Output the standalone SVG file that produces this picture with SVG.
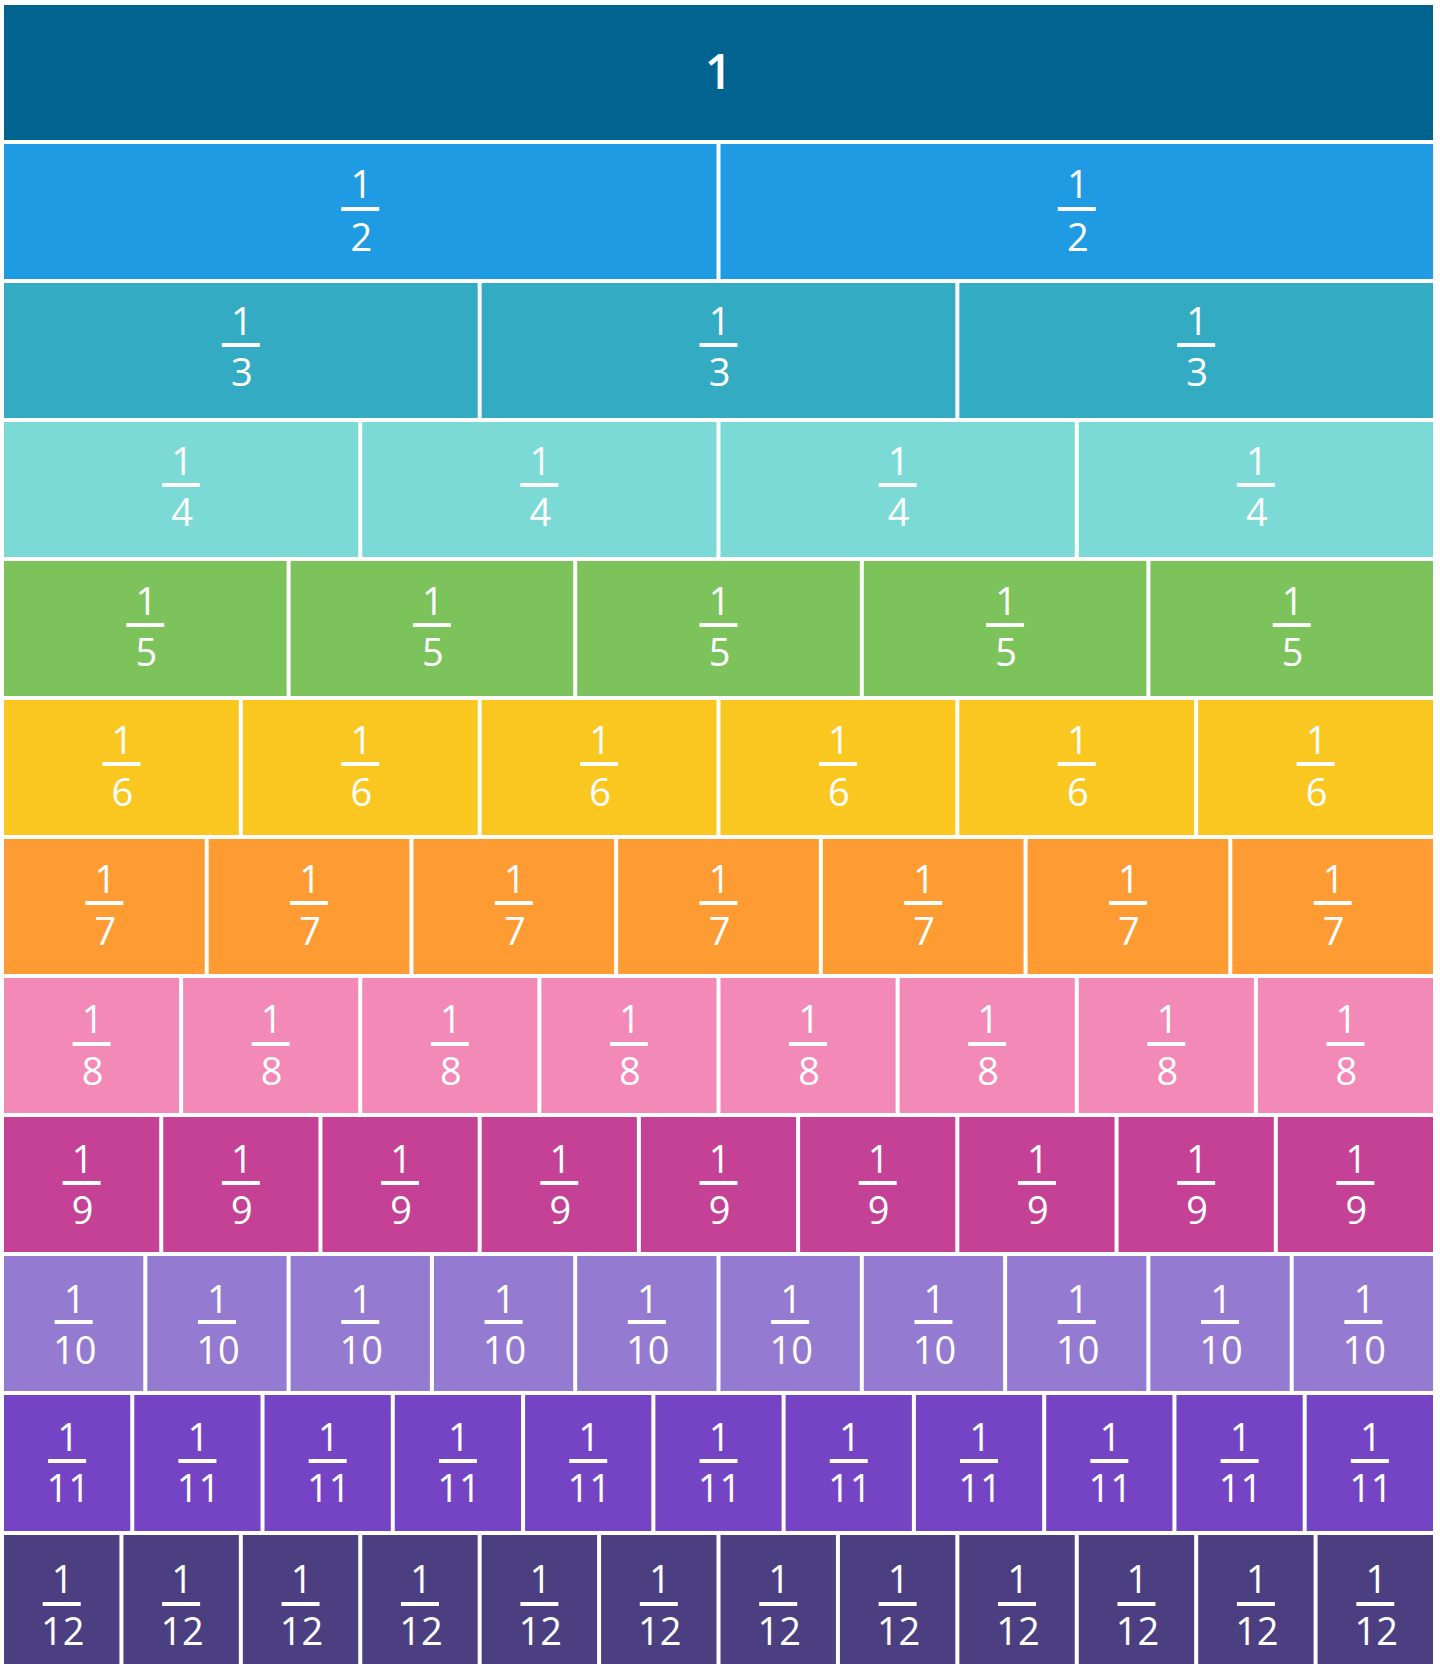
<svg xmlns="http://www.w3.org/2000/svg" width="1440" height="1664" viewBox="0 0 1440 1664">
<style>
text{font-family:"Open Sans","Noto Sans","Liberation Sans",sans-serif;fill:#fff;text-anchor:middle;font-size:38px;font-weight:500}
.one{font-size:48px;font-weight:600}
.bar{fill:#fff}
.c1{fill:#006390}.c2{fill:#1e9be2}.c3{fill:#33abc3}.c4{fill:#7bdad5}.c5{fill:#7dc35b}.c6{fill:#f9c720}
.c7{fill:#fe9b33}.c8{fill:#f289b6}.c9{fill:#c44196}.c10{fill:#957ad1}.c11{fill:#7444c4}.c12{fill:#4b3f82}
</style>
<rect width="1440" height="1664" fill="#fff"/>
<g id="connectors"/>
<g id="whole" transform="translate(718.5 5)"><rect class="c1" x="-714.5" width="1429" height="135"/><text class="one" y="84">1</text></g>

<g id="half-1" transform="translate(360.25 144)"><rect class="c2" x="-356.25" width="712.5" height="135"/><text x="1" y="54">1</text><rect class="bar" x="-19" y="63" width="38" height="4"/><text x="1" y="107">2</text></g>
<g id="half-2" transform="translate(1076.75 144)"><rect class="c2" x="-356.25" width="712.5" height="135"/><text x="1" y="54">1</text><rect class="bar" x="-19" y="63" width="38" height="4"/><text x="1" y="107">2</text></g>

<g id="third-1" transform="translate(240.83 283)"><rect class="c3" x="-236.83" width="473.67" height="135"/><text x="1" y="52">1</text><rect class="bar" x="-19" y="60" width="38" height="4"/><text x="1" y="103">3</text></g>
<g id="third-2" transform="translate(718.5 283)"><rect class="c3" x="-236.83" width="473.67" height="135"/><text x="1" y="52">1</text><rect class="bar" x="-19" y="60" width="38" height="4"/><text x="1" y="103">3</text></g>
<g id="third-3" transform="translate(1196.17 283)"><rect class="c3" x="-236.83" width="473.67" height="135"/><text x="1" y="52">1</text><rect class="bar" x="-19" y="60" width="38" height="4"/><text x="1" y="103">3</text></g>

<g id="quarter-1" transform="translate(181.13 422)"><rect class="c4" x="-177.13" width="354.25" height="135"/><text x="1" y="53">1</text><rect class="bar" x="-19" y="61" width="38" height="4"/><text x="1" y="104">4</text></g>
<g id="quarter-2" transform="translate(539.38 422)"><rect class="c4" x="-177.13" width="354.25" height="135"/><text x="1" y="53">1</text><rect class="bar" x="-19" y="61" width="38" height="4"/><text x="1" y="104">4</text></g>
<g id="quarter-3" transform="translate(897.63 422)"><rect class="c4" x="-177.13" width="354.25" height="135"/><text x="1" y="53">1</text><rect class="bar" x="-19" y="61" width="38" height="4"/><text x="1" y="104">4</text></g>
<g id="quarter-4" transform="translate(1255.88 422)"><rect class="c4" x="-177.13" width="354.25" height="135"/><text x="1" y="53">1</text><rect class="bar" x="-19" y="61" width="38" height="4"/><text x="1" y="104">4</text></g>

<g id="fifth-1" transform="translate(145.3 561)"><rect class="c5" x="-141.3" width="282.6" height="135"/><text x="1" y="54">1</text><rect class="bar" x="-19" y="62" width="38" height="4"/><text x="1" y="105">5</text></g>
<g id="fifth-2" transform="translate(431.9 561)"><rect class="c5" x="-141.3" width="282.6" height="135"/><text x="1" y="54">1</text><rect class="bar" x="-19" y="62" width="38" height="4"/><text x="1" y="105">5</text></g>
<g id="fifth-3" transform="translate(718.5 561)"><rect class="c5" x="-141.3" width="282.6" height="135"/><text x="1" y="54">1</text><rect class="bar" x="-19" y="62" width="38" height="4"/><text x="1" y="105">5</text></g>
<g id="fifth-4" transform="translate(1005.1 561)"><rect class="c5" x="-141.3" width="282.6" height="135"/><text x="1" y="54">1</text><rect class="bar" x="-19" y="62" width="38" height="4"/><text x="1" y="105">5</text></g>
<g id="fifth-5" transform="translate(1291.7 561)"><rect class="c5" x="-141.3" width="282.6" height="135"/><text x="1" y="54">1</text><rect class="bar" x="-19" y="62" width="38" height="4"/><text x="1" y="105">5</text></g>

<g id="sixth-1" transform="translate(121.42 700)"><rect class="c6" x="-117.42" width="234.83" height="135"/><text x="1" y="54">1</text><rect class="bar" x="-19" y="62" width="38" height="4"/><text x="1" y="106">6</text></g>
<g id="sixth-2" transform="translate(360.25 700)"><rect class="c6" x="-117.42" width="234.83" height="135"/><text x="1" y="54">1</text><rect class="bar" x="-19" y="62" width="38" height="4"/><text x="1" y="106">6</text></g>
<g id="sixth-3" transform="translate(599.08 700)"><rect class="c6" x="-117.42" width="234.83" height="135"/><text x="1" y="54">1</text><rect class="bar" x="-19" y="62" width="38" height="4"/><text x="1" y="106">6</text></g>
<g id="sixth-4" transform="translate(837.92 700)"><rect class="c6" x="-117.42" width="234.83" height="135"/><text x="1" y="54">1</text><rect class="bar" x="-19" y="62" width="38" height="4"/><text x="1" y="106">6</text></g>
<g id="sixth-5" transform="translate(1076.75 700)"><rect class="c6" x="-117.42" width="234.83" height="135"/><text x="1" y="54">1</text><rect class="bar" x="-19" y="62" width="38" height="4"/><text x="1" y="106">6</text></g>
<g id="sixth-6" transform="translate(1315.58 700)"><rect class="c6" x="-117.42" width="234.83" height="135"/><text x="1" y="54">1</text><rect class="bar" x="-19" y="62" width="38" height="4"/><text x="1" y="106">6</text></g>

<g id="seventh-1" transform="translate(104.36 839)"><rect class="c7" x="-100.36" width="200.71" height="135"/><text x="1" y="54">1</text><rect class="bar" x="-19" y="62" width="38" height="4"/><text x="1" y="106">7</text></g>
<g id="seventh-2" transform="translate(309.07 839)"><rect class="c7" x="-100.36" width="200.71" height="135"/><text x="1" y="54">1</text><rect class="bar" x="-19" y="62" width="38" height="4"/><text x="1" y="106">7</text></g>
<g id="seventh-3" transform="translate(513.79 839)"><rect class="c7" x="-100.36" width="200.71" height="135"/><text x="1" y="54">1</text><rect class="bar" x="-19" y="62" width="38" height="4"/><text x="1" y="106">7</text></g>
<g id="seventh-4" transform="translate(718.5 839)"><rect class="c7" x="-100.36" width="200.71" height="135"/><text x="1" y="54">1</text><rect class="bar" x="-19" y="62" width="38" height="4"/><text x="1" y="106">7</text></g>
<g id="seventh-5" transform="translate(923.21 839)"><rect class="c7" x="-100.36" width="200.71" height="135"/><text x="1" y="54">1</text><rect class="bar" x="-19" y="62" width="38" height="4"/><text x="1" y="106">7</text></g>
<g id="seventh-6" transform="translate(1127.93 839)"><rect class="c7" x="-100.36" width="200.71" height="135"/><text x="1" y="54">1</text><rect class="bar" x="-19" y="62" width="38" height="4"/><text x="1" y="106">7</text></g>
<g id="seventh-7" transform="translate(1332.64 839)"><rect class="c7" x="-100.36" width="200.71" height="135"/><text x="1" y="54">1</text><rect class="bar" x="-19" y="62" width="38" height="4"/><text x="1" y="106">7</text></g>

<g id="eighth-1" transform="translate(91.56 978)"><rect class="c8" x="-87.56" width="175.13" height="135"/><text x="1" y="55">1</text><rect class="bar" x="-19" y="64" width="38" height="4"/><text x="1" y="107">8</text></g>
<g id="eighth-2" transform="translate(270.69 978)"><rect class="c8" x="-87.56" width="175.13" height="135"/><text x="1" y="55">1</text><rect class="bar" x="-19" y="64" width="38" height="4"/><text x="1" y="107">8</text></g>
<g id="eighth-3" transform="translate(449.81 978)"><rect class="c8" x="-87.56" width="175.13" height="135"/><text x="1" y="55">1</text><rect class="bar" x="-19" y="64" width="38" height="4"/><text x="1" y="107">8</text></g>
<g id="eighth-4" transform="translate(628.94 978)"><rect class="c8" x="-87.56" width="175.13" height="135"/><text x="1" y="55">1</text><rect class="bar" x="-19" y="64" width="38" height="4"/><text x="1" y="107">8</text></g>
<g id="eighth-5" transform="translate(808.06 978)"><rect class="c8" x="-87.56" width="175.13" height="135"/><text x="1" y="55">1</text><rect class="bar" x="-19" y="64" width="38" height="4"/><text x="1" y="107">8</text></g>
<g id="eighth-6" transform="translate(987.19 978)"><rect class="c8" x="-87.56" width="175.13" height="135"/><text x="1" y="55">1</text><rect class="bar" x="-19" y="64" width="38" height="4"/><text x="1" y="107">8</text></g>
<g id="eighth-7" transform="translate(1166.31 978)"><rect class="c8" x="-87.56" width="175.13" height="135"/><text x="1" y="55">1</text><rect class="bar" x="-19" y="64" width="38" height="4"/><text x="1" y="107">8</text></g>
<g id="eighth-8" transform="translate(1345.44 978)"><rect class="c8" x="-87.56" width="175.13" height="135"/><text x="1" y="55">1</text><rect class="bar" x="-19" y="64" width="38" height="4"/><text x="1" y="107">8</text></g>

<g id="ninth-1" transform="translate(81.61 1117)"><rect class="c9" x="-77.61" width="155.22" height="135"/><text x="1" y="56">1</text><rect class="bar" x="-19" y="64" width="38" height="4"/><text x="1" y="107">9</text></g>
<g id="ninth-2" transform="translate(240.83 1117)"><rect class="c9" x="-77.61" width="155.22" height="135"/><text x="1" y="56">1</text><rect class="bar" x="-19" y="64" width="38" height="4"/><text x="1" y="107">9</text></g>
<g id="ninth-3" transform="translate(400.06 1117)"><rect class="c9" x="-77.61" width="155.22" height="135"/><text x="1" y="56">1</text><rect class="bar" x="-19" y="64" width="38" height="4"/><text x="1" y="107">9</text></g>
<g id="ninth-4" transform="translate(559.28 1117)"><rect class="c9" x="-77.61" width="155.22" height="135"/><text x="1" y="56">1</text><rect class="bar" x="-19" y="64" width="38" height="4"/><text x="1" y="107">9</text></g>
<g id="ninth-5" transform="translate(718.5 1117)"><rect class="c9" x="-77.61" width="155.22" height="135"/><text x="1" y="56">1</text><rect class="bar" x="-19" y="64" width="38" height="4"/><text x="1" y="107">9</text></g>
<g id="ninth-6" transform="translate(877.72 1117)"><rect class="c9" x="-77.61" width="155.22" height="135"/><text x="1" y="56">1</text><rect class="bar" x="-19" y="64" width="38" height="4"/><text x="1" y="107">9</text></g>
<g id="ninth-7" transform="translate(1036.94 1117)"><rect class="c9" x="-77.61" width="155.22" height="135"/><text x="1" y="56">1</text><rect class="bar" x="-19" y="64" width="38" height="4"/><text x="1" y="107">9</text></g>
<g id="ninth-8" transform="translate(1196.17 1117)"><rect class="c9" x="-77.61" width="155.22" height="135"/><text x="1" y="56">1</text><rect class="bar" x="-19" y="64" width="38" height="4"/><text x="1" y="107">9</text></g>
<g id="ninth-9" transform="translate(1355.39 1117)"><rect class="c9" x="-77.61" width="155.22" height="135"/><text x="1" y="56">1</text><rect class="bar" x="-19" y="64" width="38" height="4"/><text x="1" y="107">9</text></g>

<g id="tenth-1" transform="translate(73.65 1256)"><rect class="c10" x="-69.65" width="139.3" height="135"/><text x="1" y="57">1</text><rect class="bar" x="-19" y="64" width="38" height="4"/><text x="1" y="108">10</text></g>
<g id="tenth-2" transform="translate(216.95 1256)"><rect class="c10" x="-69.65" width="139.3" height="135"/><text x="1" y="57">1</text><rect class="bar" x="-19" y="64" width="38" height="4"/><text x="1" y="108">10</text></g>
<g id="tenth-3" transform="translate(360.25 1256)"><rect class="c10" x="-69.65" width="139.3" height="135"/><text x="1" y="57">1</text><rect class="bar" x="-19" y="64" width="38" height="4"/><text x="1" y="108">10</text></g>
<g id="tenth-4" transform="translate(503.55 1256)"><rect class="c10" x="-69.65" width="139.3" height="135"/><text x="1" y="57">1</text><rect class="bar" x="-19" y="64" width="38" height="4"/><text x="1" y="108">10</text></g>
<g id="tenth-5" transform="translate(646.85 1256)"><rect class="c10" x="-69.65" width="139.3" height="135"/><text x="1" y="57">1</text><rect class="bar" x="-19" y="64" width="38" height="4"/><text x="1" y="108">10</text></g>
<g id="tenth-6" transform="translate(790.15 1256)"><rect class="c10" x="-69.65" width="139.3" height="135"/><text x="1" y="57">1</text><rect class="bar" x="-19" y="64" width="38" height="4"/><text x="1" y="108">10</text></g>
<g id="tenth-7" transform="translate(933.45 1256)"><rect class="c10" x="-69.65" width="139.3" height="135"/><text x="1" y="57">1</text><rect class="bar" x="-19" y="64" width="38" height="4"/><text x="1" y="108">10</text></g>
<g id="tenth-8" transform="translate(1076.75 1256)"><rect class="c10" x="-69.65" width="139.3" height="135"/><text x="1" y="57">1</text><rect class="bar" x="-19" y="64" width="38" height="4"/><text x="1" y="108">10</text></g>
<g id="tenth-9" transform="translate(1220.05 1256)"><rect class="c10" x="-69.65" width="139.3" height="135"/><text x="1" y="57">1</text><rect class="bar" x="-19" y="64" width="38" height="4"/><text x="1" y="108">10</text></g>
<g id="tenth-10" transform="translate(1363.35 1256)"><rect class="c10" x="-69.65" width="139.3" height="135"/><text x="1" y="57">1</text><rect class="bar" x="-19" y="64" width="38" height="4"/><text x="1" y="108">10</text></g>

<g id="eleventh-1" transform="translate(67.14 1395)"><rect class="c11" x="-63.14" width="126.27" height="136"/><text x="1" y="56">1</text><rect class="bar" x="-19" y="64" width="38" height="4"/><text x="1" y="107">11</text></g>
<g id="eleventh-2" transform="translate(197.41 1395)"><rect class="c11" x="-63.14" width="126.27" height="136"/><text x="1" y="56">1</text><rect class="bar" x="-19" y="64" width="38" height="4"/><text x="1" y="107">11</text></g>
<g id="eleventh-3" transform="translate(327.68 1395)"><rect class="c11" x="-63.14" width="126.27" height="136"/><text x="1" y="56">1</text><rect class="bar" x="-19" y="64" width="38" height="4"/><text x="1" y="107">11</text></g>
<g id="eleventh-4" transform="translate(457.95 1395)"><rect class="c11" x="-63.14" width="126.27" height="136"/><text x="1" y="56">1</text><rect class="bar" x="-19" y="64" width="38" height="4"/><text x="1" y="107">11</text></g>
<g id="eleventh-5" transform="translate(588.23 1395)"><rect class="c11" x="-63.14" width="126.27" height="136"/><text x="1" y="56">1</text><rect class="bar" x="-19" y="64" width="38" height="4"/><text x="1" y="107">11</text></g>
<g id="eleventh-6" transform="translate(718.5 1395)"><rect class="c11" x="-63.14" width="126.27" height="136"/><text x="1" y="56">1</text><rect class="bar" x="-19" y="64" width="38" height="4"/><text x="1" y="107">11</text></g>
<g id="eleventh-7" transform="translate(848.77 1395)"><rect class="c11" x="-63.14" width="126.27" height="136"/><text x="1" y="56">1</text><rect class="bar" x="-19" y="64" width="38" height="4"/><text x="1" y="107">11</text></g>
<g id="eleventh-8" transform="translate(979.05 1395)"><rect class="c11" x="-63.14" width="126.27" height="136"/><text x="1" y="56">1</text><rect class="bar" x="-19" y="64" width="38" height="4"/><text x="1" y="107">11</text></g>
<g id="eleventh-9" transform="translate(1109.32 1395)"><rect class="c11" x="-63.14" width="126.27" height="136"/><text x="1" y="56">1</text><rect class="bar" x="-19" y="64" width="38" height="4"/><text x="1" y="107">11</text></g>
<g id="eleventh-10" transform="translate(1239.59 1395)"><rect class="c11" x="-63.14" width="126.27" height="136"/><text x="1" y="56">1</text><rect class="bar" x="-19" y="64" width="38" height="4"/><text x="1" y="107">11</text></g>
<g id="eleventh-11" transform="translate(1369.86 1395)"><rect class="c11" x="-63.14" width="126.27" height="136"/><text x="1" y="56">1</text><rect class="bar" x="-19" y="64" width="38" height="4"/><text x="1" y="107">11</text></g>

<g id="twelfth-1" transform="translate(61.71 1535)"><rect class="c12" x="-57.71" width="115.42" height="140"/><text x="1" y="58">1</text><rect class="bar" x="-19" y="67" width="38" height="4"/><text x="1" y="110">12</text></g>
<g id="twelfth-2" transform="translate(181.13 1535)"><rect class="c12" x="-57.71" width="115.42" height="140"/><text x="1" y="58">1</text><rect class="bar" x="-19" y="67" width="38" height="4"/><text x="1" y="110">12</text></g>
<g id="twelfth-3" transform="translate(300.54 1535)"><rect class="c12" x="-57.71" width="115.42" height="140"/><text x="1" y="58">1</text><rect class="bar" x="-19" y="67" width="38" height="4"/><text x="1" y="110">12</text></g>
<g id="twelfth-4" transform="translate(419.96 1535)"><rect class="c12" x="-57.71" width="115.42" height="140"/><text x="1" y="58">1</text><rect class="bar" x="-19" y="67" width="38" height="4"/><text x="1" y="110">12</text></g>
<g id="twelfth-5" transform="translate(539.38 1535)"><rect class="c12" x="-57.71" width="115.42" height="140"/><text x="1" y="58">1</text><rect class="bar" x="-19" y="67" width="38" height="4"/><text x="1" y="110">12</text></g>
<g id="twelfth-6" transform="translate(658.79 1535)"><rect class="c12" x="-57.71" width="115.42" height="140"/><text x="1" y="58">1</text><rect class="bar" x="-19" y="67" width="38" height="4"/><text x="1" y="110">12</text></g>
<g id="twelfth-7" transform="translate(778.21 1535)"><rect class="c12" x="-57.71" width="115.42" height="140"/><text x="1" y="58">1</text><rect class="bar" x="-19" y="67" width="38" height="4"/><text x="1" y="110">12</text></g>
<g id="twelfth-8" transform="translate(897.63 1535)"><rect class="c12" x="-57.71" width="115.42" height="140"/><text x="1" y="58">1</text><rect class="bar" x="-19" y="67" width="38" height="4"/><text x="1" y="110">12</text></g>
<g id="twelfth-9" transform="translate(1017.04 1535)"><rect class="c12" x="-57.71" width="115.42" height="140"/><text x="1" y="58">1</text><rect class="bar" x="-19" y="67" width="38" height="4"/><text x="1" y="110">12</text></g>
<g id="twelfth-10" transform="translate(1136.46 1535)"><rect class="c12" x="-57.71" width="115.42" height="140"/><text x="1" y="58">1</text><rect class="bar" x="-19" y="67" width="38" height="4"/><text x="1" y="110">12</text></g>
<g id="twelfth-11" transform="translate(1255.88 1535)"><rect class="c12" x="-57.71" width="115.42" height="140"/><text x="1" y="58">1</text><rect class="bar" x="-19" y="67" width="38" height="4"/><text x="1" y="110">12</text></g>
<g id="twelfth-12" transform="translate(1375.29 1535)"><rect class="c12" x="-57.71" width="115.42" height="140"/><text x="1" y="58">1</text><rect class="bar" x="-19" y="67" width="38" height="4"/><text x="1" y="110">12</text></g>
</svg>
